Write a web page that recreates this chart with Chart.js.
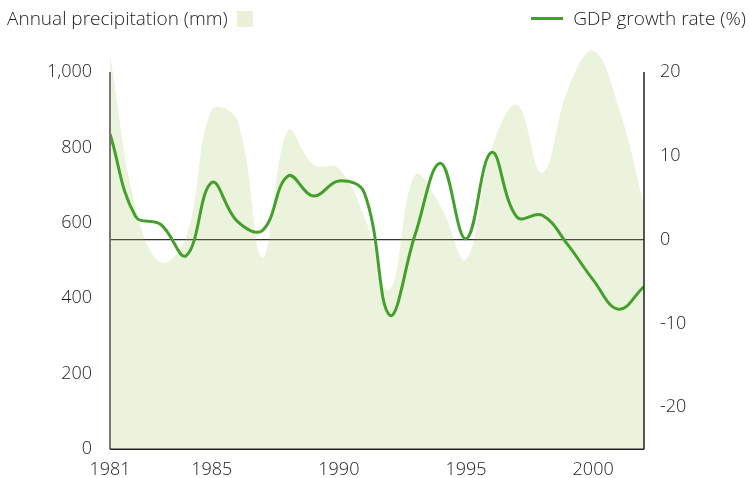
<!DOCTYPE html>
<html>
<head>
<meta charset="utf-8">
<script src="https://cdn.jsdelivr.net/npm/chart.js@4"></script>
<style>
  html, body { margin: 0; padding: 0; background: #fff; }
  #wrap { position: relative; width: 750px; height: 478px; font-family: "Open Sans", sans-serif; color: #222; }
  canvas { position: absolute; left: 0; top: 0; }
  .leg { position: absolute; top: 2px; font-size: 19px; font-weight: 300; line-height: 32px; white-space: nowrap; }
  .sq { display: inline-block; width: 16px; height: 16px; background: #ebf1d9; vertical-align: -2px; margin-left: 9px; }
  .ln { display: inline-block; width: 32px; height: 3px; background: #44a02c; vertical-align: 5px; margin-right: 10px; }
</style>
</head>
<body>
<div id="wrap">
  <canvas id="chart" width="750" height="478"></canvas>
  <div class="leg" style="left:7px">Annual precipitation (mm)<span class="sq"></span></div>
  <div class="leg" style="right:4px"><span class="ln"></span>GDP growth rate (%)</div>
</div>
<script>
const years = [1981,1982,1983,1984,1985,1986,1987,1988,1989,1990,1991,1992,1993,1994,1995,1996,1997,1998,1999,2000,2001,2002];
const precipitation = [1045,643,495,563,899,873,508,845,754,744,617,423,727,644,503,794,913,732,952,1056,908,648];
const gdpGrowth = [12.6,2.8,1.8,-1.9,6.8,2.2,1.1,7.6,5.2,7.0,5.6,-9.0,0.6,9.1,0.1,10.4,2.7,2.9,-0.6,-4.8,-8.3,-5.6];
const xTicks = [1981,1985,1990,1995,2000];
const leftTicks = [0,200,400,600,800,1000];
const rightTicks = [-20,-10,0,10,20];

// chart area: bottom at 450, 1000 mm / 20 % at y=72
const TOP = 45;
const leftMax = 1000 * (450 - TOP) / 378;
const rightMax = -25 + 45 * (450 - TOP) / 378;

const axisLines = {
  id: "axisLines",
  afterDatasetsDraw(chart) {
    const { ctx, chartArea, scales } = chart;
    const yTop = scales.y.getPixelForValue(1000);
    ctx.save();
    ctx.lineWidth = 2;
    ctx.strokeStyle = "#777";
    ctx.beginPath();
    ctx.moveTo(chartArea.left, yTop);
    ctx.lineTo(chartArea.left, chartArea.bottom);
    ctx.stroke();
    ctx.lineWidth = 1.5;
    ctx.strokeStyle = "#222";
    ctx.beginPath();
    ctx.moveTo(chartArea.right, yTop);
    ctx.lineTo(chartArea.right, chartArea.bottom);
    ctx.moveTo(chartArea.left, chartArea.bottom);
    ctx.lineTo(chartArea.right, chartArea.bottom);
    ctx.stroke();
    ctx.restore();
  }
};

const tickFont = { family: "'Open Sans', sans-serif", size: 18, weight: 300 };

new Chart(document.getElementById("chart"), {
  type: "line",
  data: {
    datasets: [
      {
        label: "GDP growth rate (%)",
        data: years.map((y, i) => ({ x: y, y: gdpGrowth[i] })),
        yAxisID: "y2",
        borderColor: "#44a02c",
        borderWidth: 3,
        pointRadius: 0,
        tension: 0.4,
        fill: false,
      },
      {
        label: "Annual precipitation (mm)",
        data: years.map((y, i) => ({ x: y, y: precipitation[i] })),
        yAxisID: "y",
        borderWidth: 0,
        borderColor: "rgba(0,0,0,0)",
        backgroundColor: "rgba(160,195,80,0.2)",
        pointRadius: 0,
        tension: 0.4,
        fill: "origin",
      }
    ]
  },
  options: {
    responsive: false, animation: false,
    layout: { padding: { top: TOP, left: 0, right: 0, bottom: 0 } },
    plugins: { legend: { display: false }, tooltip: { enabled: false } },
    scales: {
      x: {
        type: "linear", min: 1981, max: 2002,
        afterBuildTicks: s => { s.ticks = xTicks.map(v => ({ value: v })); },
        afterFit: s => { s.height = 28; },
        grid: { display: false, drawTicks: false },
        border: { display: false },
        ticks: { font: tickFont, color: "#222", padding: 10, maxRotation: 0, callback: v => String(v) }
      },
      y: {
        position: "left", min: 0, max: leftMax,
        afterBuildTicks: s => { s.ticks = leftTicks.map(v => ({ value: v })); },
        afterFit: s => { s.width = 110; },
        grid: { display: false, drawTicks: false },
        border: { display: false },
        ticks: { font: tickFont, color: "#222", padding: 18, callback: v => v.toLocaleString("en-US") }
      },
      y2: {
        position: "right", min: -25, max: rightMax,
        afterBuildTicks: s => { s.ticks = rightTicks.map(v => ({ value: v })); },
        afterFit: s => { s.width = 106; },
        grid: { drawTicks: false, color: c => c.tick && c.tick.value === 0 ? "#333" : "rgba(0,0,0,0)", lineWidth: 1.2 },
        border: { display: false },
        ticks: { font: tickFont, color: "#222", padding: 16 }
      }
    }
  },
  plugins: [axisLines]
});
</script>
</body>
</html>
